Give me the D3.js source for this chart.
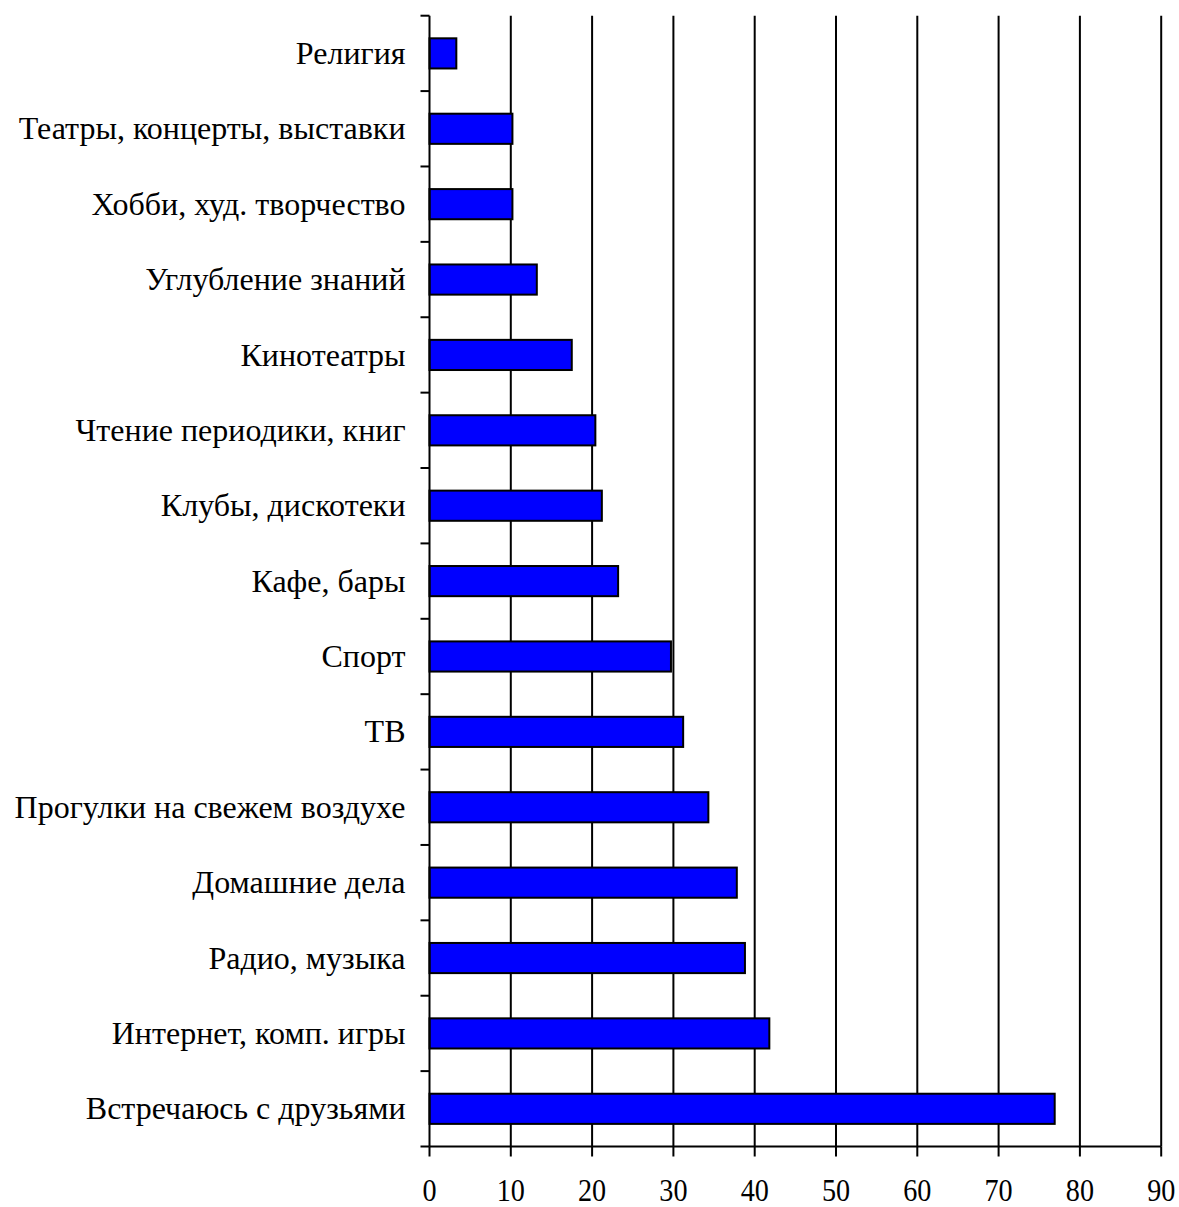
<!DOCTYPE html>
<html><head><meta charset="utf-8">
<script src="https://cdn.jsdelivr.net/npm/d3@7"></script>
<style>body{margin:0;background:#fff}svg{display:block}</style>
</head><body>
<svg id="c" width="1179" height="1207"></svg>
<script>
const categories = ["Религия","Театры, концерты, выставки","Хобби, худ. творчество","Углубление знаний","Кинотеатры","Чтение периодики, книг","Клубы, дискотеки","Кафе, бары","Спорт","ТВ","Прогулки на свежем воздухе","Домашние дела","Радио, музыка","Интернет, комп. игры","Встречаюсь с друзьями"];
const values = [3.3,10.2,10.2,13.2,17.5,20.4,21.2,23.2,29.7,31.2,34.3,37.8,38.8,41.8,76.9];
const xTicks = [0,10,20,30,40,50,60,70,80,90];

(function(){
const svg = d3.select("#c");
const pL = 429.5, pR = 1161.2, pT = 15.7, pB = 1146.5;
const x = d3.scaleLinear().domain([0,90]).range([pL,pR]);
const y = d3.scaleBand().domain(categories).range([pT,pB]).paddingInner(0.6).paddingOuter(0.3);
const yb = d3.scaleLinear().domain([0,categories.length]).range([pT,pB]);
const font = "'Liberation Serif','Times New Roman',serif";

svg.append("g").selectAll("line").data(xTicks.filter(d=>d>0)).join("line")
  .attr("x1",d=>x(d)).attr("x2",d=>x(d)).attr("y1",pT).attr("y2",pB)
  .attr("stroke","#000").attr("stroke-width",2);

svg.append("g").selectAll("rect").data(values).join("rect")
  .attr("x",x(0)).attr("y",(d,i)=>y(categories[i]))
  .attr("width",d=>x(d)-x(0)).attr("height",y.bandwidth())
  .attr("fill","#0000ff").attr("stroke","#000").attr("stroke-width",2);

const ya = svg.append("g");
ya.append("line").attr("x1",pL).attr("x2",pL).attr("y1",pT).attr("y2",pB).attr("stroke","#000").attr("stroke-width",2);
ya.selectAll("line.t").data(d3.range(categories.length+1)).join("line").attr("class","t")
  .attr("x1",pL-9).attr("x2",pL).attr("y1",d=>yb(d)).attr("y2",d=>yb(d))
  .attr("stroke","#000").attr("stroke-width",2);
ya.selectAll("text").data(categories).join("text")
  .attr("x",pL-24).attr("y",d=>y(d)+y.bandwidth()/2).attr("dy","0.33em")
  .attr("text-anchor","end").attr("font-family",font).attr("font-size",32)
  .text(d=>d);

const xa = svg.append("g");
xa.append("line").attr("x1",pL).attr("x2",pR).attr("y1",pB).attr("y2",pB).attr("stroke","#000").attr("stroke-width",2);
xa.selectAll("line.t").data(xTicks).join("line").attr("class","t")
  .attr("x1",d=>x(d)).attr("x2",d=>x(d)).attr("y1",pB).attr("y2",pB+10)
  .attr("stroke","#000").attr("stroke-width",2);
xa.selectAll("text").data(xTicks).join("text")
  .attr("transform",d=>`translate(${x(d)},1201) scale(0.88,1)`).attr("text-anchor","middle")
  .attr("font-family",font).attr("font-size",32).text(d=>d);
})();
</script>
</body></html>
